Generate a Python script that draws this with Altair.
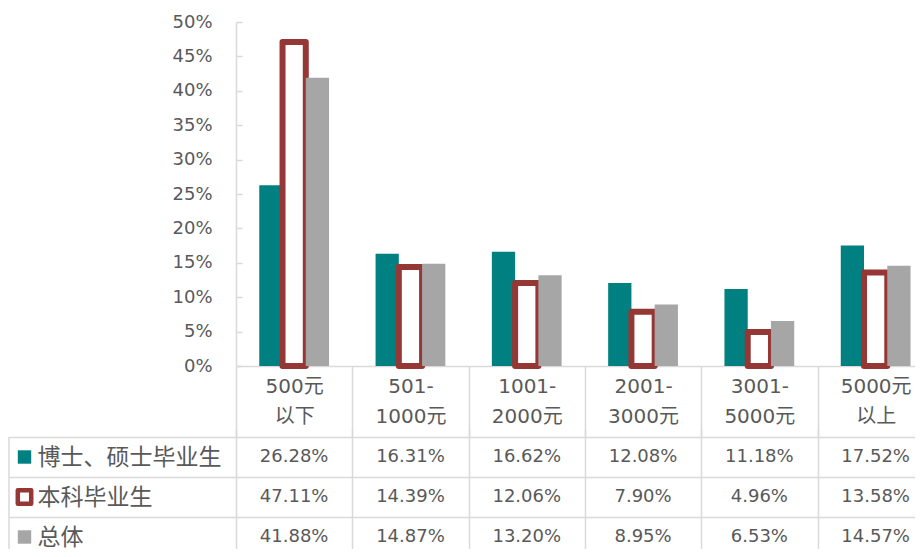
import altair as alt
import pandas as pd

# ---- data ----
categories = ["500元\n以下", "501-\n1000元", "1001-\n2000元", "2001-\n3000元", "3001-\n5000元", "5000元\n以上"]
series = ["博士、硕士毕业生", "本科毕业生", "总体"]
phd_master = [26.28, 16.31, 16.62, 12.08, 11.18, 17.52]
bachelor = [47.11, 14.39, 12.06, 7.90, 4.96, 13.58]
overall = [41.88, 14.87, 13.20, 8.95, 6.53, 14.57]
y_ticks = [0, 5, 10, 15, 20, 25, 30, 35, 40, 45, 50]
fill_colors = ["#008080", "#FFFFFF", "#A6A6A6"]
outline_color = "#953735"
hollow_series = "本科毕业生"

rows = []
for s, vals in zip(series, [phd_master, bachelor, overall]):
    for c, v in zip(categories, vals):
        rows.append({"category": c, "series": s, "value": v, "label": f"{v:.2f}%"})
df = pd.DataFrame(rows)
keys = pd.DataFrame({"series": series})

# ---- layout / style ----
NUM_FONT = "DejaVu Sans, Noto Sans CJK SC"
CJK_FONT = "Noto Sans CJK SC"
TEXT = "#595959"
LINE = "#D9D9D9"
STEP = 116.3
X_RANGE = STEP * len(categories)      # columns run past the right edge, as in the reference
H = 344
HEADER = 71
ROW = 40
Y_RANGE = ROW * len(series)           # last row runs past the bottom edge
LABEL_COL = 227

# page geometry: the svg is 907 x 541 inside the 8px page margin
PAD_L, PAD_T = 228, 14
SVG_W, SVG_H = 907, 541
W = SVG_W - PAD_L
TH = SVG_H - PAD_T - H - HEADER

fill_scale = alt.Scale(domain=series, range=fill_colors)
is_hollow = alt.datum.series == hollow_series

bars = alt.Chart(df).mark_bar(stroke=outline_color, strokeJoin="round").encode(
    x=alt.X("category:N", sort=categories,
            scale=alt.Scale(type="band", paddingInner=0, paddingOuter=0, range=[0, X_RANGE]),
            axis=alt.Axis(title=None, orient="bottom", domainColor=LINE, domainWidth=1.5,
                          ticks=True, tickBand="extent", tickSize=HEADER, tickColor=LINE,
                          tickWidth=1.5, grid=False,
                          labelExpr="isString(datum.value) ? split(datum.value, '\\n') : ''",
                          labelAngle=0,
                          labelBaseline="middle", labelLineHeight=30, labelPadding=-51,
                          labelFontSize=20, labelColor=TEXT, labelFont=NUM_FONT)),
    xOffset=alt.XOffset("series:N", sort=series,
                        scale=alt.Scale(paddingInner=0, paddingOuter=1)),
    y=alt.Y("value:Q", scale=alt.Scale(domain=[0, 50], nice=False),
            axis=alt.Axis(title=None, values=y_ticks, labelExpr="datum.value + '%'",
                          domainColor=LINE, domainWidth=1.5, ticks=False,
                          grid=True, gridDash=[6, 3000], gridColor=LINE, gridWidth=1.5,
                          labelPadding=24, labelFontSize=18, labelColor=TEXT,
                          labelFont=NUM_FONT)),
    fill=alt.Fill("series:N", sort=series, scale=fill_scale, legend=None),
    strokeWidth=alt.condition(is_hollow, alt.value(6), alt.value(0)),
).properties(width=W, height=H)

x_table = alt.X("category:N", sort=categories,
                scale=alt.Scale(type="band", paddingInner=0, paddingOuter=0, range=[0, X_RANGE]),
                axis=alt.Axis(title=None, labels=False, ticks=False, domain=False,
                              grid=True, tickBand="extent", gridColor=LINE, gridWidth=1.5))
y_table = alt.Y("series:N", sort=series,
                scale=alt.Scale(type="band", domain=series, paddingInner=0, paddingOuter=0,
                                range=[0, Y_RANGE]),
                axis=alt.Axis(title=None, domain=False, ticks=True, tickBand="extent",
                              tickSize=LABEL_COL, tickColor=LINE, tickWidth=1.5,
                              grid=True, gridColor=LINE, gridWidth=1.5,
                              labelAlign="left", labelBaseline="middle", labelPadding=-28,
                              labelFontSize=23, labelColor=TEXT, labelFont=CJK_FONT,
                              labelLimit=400))

cells = alt.Chart(df).mark_text(fontSize=18, color=TEXT, font=NUM_FONT).encode(
    x=x_table, y=y_table, text="label:N")

key_marks = alt.Chart(keys).mark_point(shape="square", filled=True, size=180,
                                        stroke=outline_color, strokeJoin="round",
                                        opacity=1).encode(
    y=y_table,
    x=alt.value(-211.5),
    fill=alt.Fill("series:N", sort=series, scale=fill_scale, legend=None),
    strokeWidth=alt.condition(is_hollow, alt.value(4.5), alt.value(0)),
)

border = alt.Chart(pd.DataFrame({"k": [0]})).mark_rule(color=LINE, strokeWidth=1.5).encode(
    x=alt.value(-LABEL_COL), y=alt.value(0), y2=alt.value(Y_RANGE))

table = alt.layer(cells, key_marks, border).properties(width=W, height=TH)

# with autosize "none" the concatenated view reports width W and height 0,
# so the bottom padding supplies the page height
chart = alt.vconcat(bars, table, spacing=HEADER, bounds="flush").properties(
    autosize=alt.AutoSizeParams(type="none"),
    padding={"left": PAD_L, "top": PAD_T, "right": 0, "bottom": SVG_H - PAD_T},
    background="white",
).configure_view(strokeWidth=0)

chart.save("out.html", embed_options={"renderer": "svg", "actions": False})
